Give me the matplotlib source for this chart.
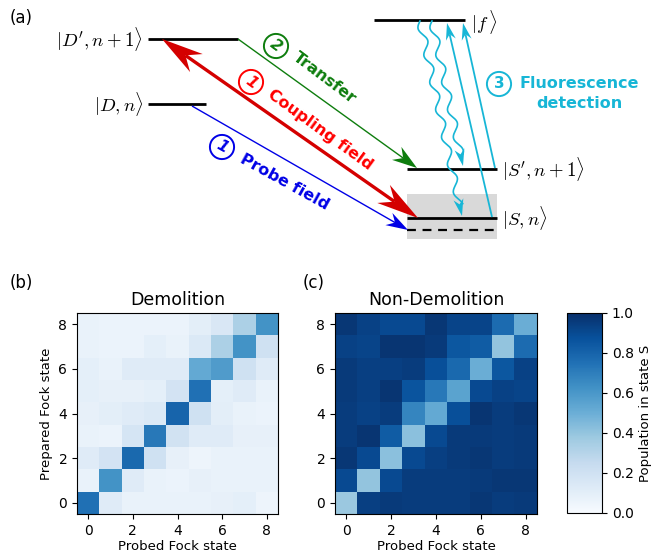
import numpy as np
import matplotlib
matplotlib.use('Agg')
import matplotlib.pyplot as plt
from matplotlib.patches import Polygon, Rectangle

W, H = 667, 554

# heatmap data: rows = prepared Fock state 0..8 (bottom -> top), cols = probed Fock state 0..8
fock = np.arange(9)
tick_vals = [0, 2, 4, 6, 8]
cbar_ticks = [0.0, 0.2, 0.4, 0.6, 0.8, 1.0]

demolition = np.array([
    [0.75, 0.12, 0.07, 0.07, 0.07, 0.07, 0.08, 0.09, 0.05],
    [0.07, 0.62, 0.12, 0.07, 0.06, 0.08, 0.07, 0.07, 0.07],
    [0.12, 0.18, 0.78, 0.20, 0.08, 0.05, 0.07, 0.07, 0.07],
    [0.07, 0.06, 0.17, 0.72, 0.19, 0.12, 0.12, 0.08, 0.08],
    [0.08, 0.10, 0.12, 0.14, 0.80, 0.20, 0.10, 0.07, 0.06],
    [0.09, 0.08, 0.08, 0.09, 0.18, 0.75, 0.09, 0.12, 0.07],
    [0.09, 0.07, 0.12, 0.12, 0.12, 0.52, 0.58, 0.20, 0.12],
    [0.07, 0.06, 0.06, 0.09, 0.07, 0.14, 0.33, 0.62, 0.20],
    [0.07, 0.06, 0.06, 0.06, 0.06, 0.10, 0.15, 0.33, 0.62],
])

non_demolition = np.array([
    [0.38, 0.94, 0.96, 0.95, 0.95, 0.95, 0.97, 0.95, 0.96],
    [0.90, 0.40, 0.90, 0.95, 0.95, 0.95, 0.96, 0.97, 0.97],
    [0.97, 0.90, 0.42, 0.90, 0.94, 0.96, 0.97, 0.95, 0.96],
    [0.95, 0.98, 0.83, 0.42, 0.90, 0.96, 0.96, 0.95, 0.96],
    [0.95, 0.93, 0.95, 0.67, 0.52, 0.88, 0.98, 0.95, 0.97],
    [0.96, 0.94, 0.98, 0.86, 0.72, 0.55, 0.90, 0.93, 0.92],
    [0.96, 0.94, 0.94, 0.95, 0.88, 0.78, 0.50, 0.85, 0.93],
    [0.93, 0.92, 0.98, 0.98, 0.96, 0.85, 0.83, 0.40, 0.77],
    [0.97, 0.93, 0.90, 0.90, 0.97, 0.92, 0.92, 0.77, 0.50],
])

# level scheme (pixel coords of the top panel): x0, x1, y
lev_Dp = (148, 238, 39)
lev_D = (148, 206, 104)
lev_f = (374, 465, 20)
lev_Sp = (407, 497, 169)
lev_S = (407, 497, 218)
lev_dash = (407, 497, 230)

RED_ARROW = '#d40000'
RED_TEXT = '#ff0000'
BLUE = '#0000e6'
GREEN = '#0e7d0e'
CYAN = '#17b6d6'

plt.rcParams['mathtext.fontset'] = 'cm'
fig = plt.figure(figsize=(W / 100, H / 100), dpi=100)


def head(ax, tip, direc, hl, hw, inset, color):
    tip = np.array(tip, float)
    u = np.array(direc, float)
    u = u / np.hypot(*u)
    n = np.array([-u[1], u[0]])
    back = tip - u * hl
    notch = back + u * inset
    ax.add_patch(Polygon([tip, back + n * hw, notch, back - n * hw],
                         closed=True, fc=color, ec='none', zorder=6))
    return notch


def arrow(ax, start, end, color, lw, hl, hw, both=False):
    start = np.array(start, float)
    end = np.array(end, float)
    d = end - start
    p1 = head(ax, end, d, hl, hw, hl * 0.32, color)
    p0 = head(ax, start, -d, hl, hw, hl * 0.32, color) if both else start
    ax.plot([p0[0], p1[0]], [p0[1], p1[1]], color=color, lw=lw,
            solid_capstyle='butt', zorder=5)


def wavy(ax, start, end, color, amp=3.5, wl=28, hl=17, hw=5):
    start = np.array(start, float)
    end = np.array(end, float)
    d = end - start
    L = np.hypot(*d)
    u = d / L
    n = np.array([-u[1], u[0]])
    s = np.linspace(0, L - hl * 0.7, 400)
    off = amp * np.sin(2 * np.pi * s / wl)
    pts = start + np.outer(s, u) + np.outer(off, n)
    ax.plot(pts[:, 0], pts[:, 1], color=color, lw=1.2, zorder=5)
    head(ax, end, d, hl, hw, hl * 0.3, color)


def step(ax, num, xy, color, angle, italic=True):
    ax.text(xy[0], xy[1], num, color=color, fontsize=11, fontweight='bold',
            fontstyle='italic' if italic else 'normal', rotation=angle,
            ha='center', va='center', rotation_mode='anchor',
            bbox=dict(boxstyle='circle,pad=0.3', fc='none', ec=color, lw=1.4))


# ---------------- (a) level diagram ----------------
ax = fig.add_axes([0, (H - 254) / H, 1, 254 / H])
ax.set_xlim(0, W)
ax.set_ylim(254, 0)
ax.axis('off')

ax.add_patch(Rectangle((407, 194), 90, 45, fc='#d9d9d9', ec='none', zorder=1))
for x0, x1, y in [lev_Dp, lev_D, lev_f, lev_Sp, lev_S]:
    ax.plot([x0, x1], [y, y], color='black', lw=2.0, zorder=4, solid_capstyle='butt')
ax.plot([lev_dash[0], lev_dash[1]], [lev_dash[2]] * 2, color='black', lw=1.6,
        ls=(0, (4, 3)), zorder=4)

ax.text(143, 39, r'$|D^{\prime},n+1\rangle$', fontsize=13.5, ha='right', va='center')
ax.text(143, 104, r'$|D,n\rangle$', fontsize=13.5, ha='right', va='center')
ax.text(471, 22, r'$|f\,\rangle$', fontsize=13.5, ha='left', va='center')
ax.text(502, 169, r'$|S^{\prime},n+1\rangle$', fontsize=13.5, ha='left', va='center')
ax.text(502, 218, r'$|S,n\rangle$', fontsize=13.5, ha='left', va='center')

# arrows
arrow(ax, (lev_D[1] - 14, lev_D[2] + 2), (lev_dash[0] + 1, lev_dash[2]), BLUE, 1.0, 22, 7)
arrow(ax, (lev_Dp[1], lev_Dp[2]), (lev_Sp[0] + 10, lev_Sp[2] - 1), GREEN, 1.0, 25, 8)
arrow(ax, (162, 39), (418, 218), RED_ARROW, 2.4, 42, 11, both=True)

# fluorescence
wavy(ax, (420, 21), (462, 216), CYAN)
wavy(ax, (432, 21), (463, 166), CYAN)
arrow(ax, (492, 217), (447, 23), CYAN, 1.3, 17, 5)
arrow(ax, (495, 168), (463, 23), CYAN, 1.3, 17, 5)

# step labels
step(ax, '2', (276, 46), GREEN, -37)
ax.text(324, 78, 'Transfer', color=GREEN, fontsize=11.5, fontweight='bold',
        rotation=-37, rotation_mode='anchor', ha='center', va='center')
step(ax, '1', (251, 82), RED_TEXT, -36)
ax.text(320, 130, 'Coupling field', color=RED_TEXT, fontsize=11.5, fontweight='bold',
        rotation=-36, rotation_mode='anchor', ha='center', va='center')
step(ax, '1', (222, 147), BLUE, -29)
ax.text(285, 182, 'Probe field', color=BLUE, fontsize=11.5, fontweight='bold',
        rotation=-29, rotation_mode='anchor', ha='center', va='center')
step(ax, '3', (499, 84), CYAN, 0, italic=False)
ax.text(579, 84, 'Fluorescence', color=CYAN, fontsize=11.5, fontweight='bold',
        ha='center', va='center')
ax.text(579, 104, 'detection', color=CYAN, fontsize=11.5, fontweight='bold',
        ha='center', va='center')

# ---------------- (b), (c) heatmaps ----------------
ax_b = fig.add_axes([77 / W, 1 - 514 / H, 201 / W, 201 / H])
ax_c = fig.add_axes([335 / W, 1 - 514 / H, 202 / W, 201 / H])
cax = fig.add_axes([567 / W, 1 - 513 / H, 35 / W, 200 / H])

for a, data, title in [(ax_b, demolition, 'Demolition'),
                       (ax_c, non_demolition, 'Non-Demolition')]:
    im = a.imshow(data, cmap='Blues', vmin=0, vmax=1, origin='lower', aspect='auto')
    a.set_xticks(tick_vals)
    a.set_yticks(tick_vals)
    a.tick_params(labelsize=10)
    a.set_xlabel('Probed Fock state', fontsize=9.5, labelpad=1.5)
    a.set_title(title, fontsize=12.5, pad=6)
ax_b.set_ylabel('Prepared Fock state', fontsize=9.5)

cb = fig.colorbar(im, cax=cax, ticks=cbar_ticks)
cb.ax.set_yticklabels(['%.1f' % t for t in cbar_ticks])
cb.ax.tick_params(labelsize=10)
cb.set_label('Population in state S', fontsize=9.5)

fig.text(10 / W, 1 - 18 / H, '(a)', fontsize=12, va='center')
fig.text(10 / W, 1 - 283 / H, '(b)', fontsize=12, va='center')
fig.text(303 / W, 1 - 283 / H, '(c)', fontsize=12, va='center')

fig.savefig('out.png', dpi=100)
